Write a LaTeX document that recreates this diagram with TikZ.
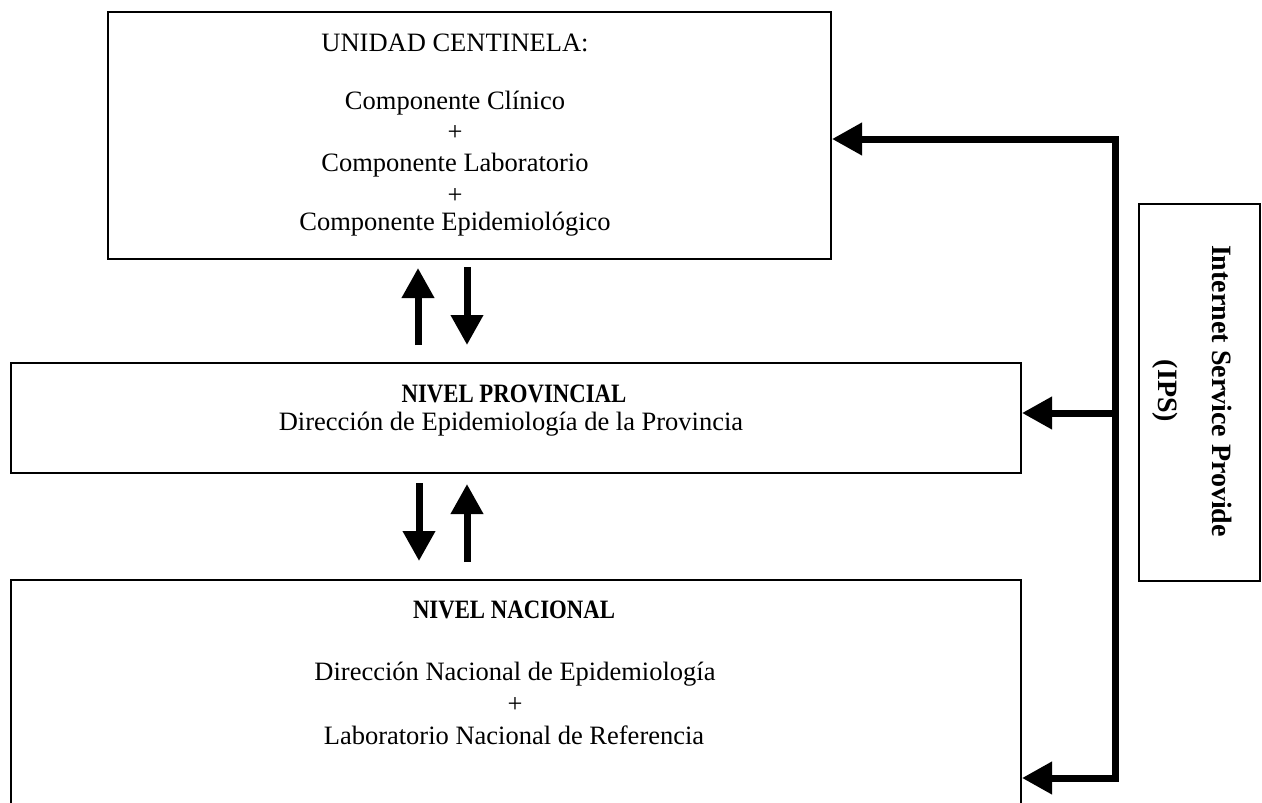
\documentclass[tikz,border=0pt]{standalone}
\usepackage{fontspec}
\setmainfont{Liberation Serif}
\newfontfamily\condbf{Liberation Serif}[FakeStretch=0.86]
\usetikzlibrary{arrows.meta}
\begin{document}
\begin{tikzpicture}[x=1pt,y=-1pt,
  box/.style={draw,line width=2pt,inner sep=0pt,anchor=north west},
  tip/.style={Triangle[length=30pt 0 0,width=31pt 0 0]},
  fat/.style={line width=7pt,-{Triangle[length=30pt 0 0,width=31pt 0 0]}},
  txt/.style={anchor=base,inner sep=0pt,font=\fontsize{26.5}{30}\selectfont},
  btxt/.style={anchor=base,inner sep=0pt,font=\fontsize{26.5}{30}\condbf\bfseries}]
\useasboundingbox (0,0) rectangle (1262,803);
% boxes
\node[box,minimum width=723pt,minimum height=247pt] (uc) at (107,11) {};
\node[box,minimum width=1010pt,minimum height=110pt] (prov) at (10,362) {};
\node[box,minimum width=1010pt,minimum height=260pt] (nac) at (10,579) {};
\node[box,minimum width=121pt,minimum height=377pt] (ips) at (1138,203) {};
% texts top box
\node[txt] (t1) at (455,51) {UNIDAD CENTINELA:};
\node[txt] (t2) at (455,109) {Componente Clínico};
\node[txt] (t3) at (455,140) {+};
\node[txt] (t4) at (455,171) {Componente Laboratorio};
\node[txt] (t5) at (455,203) {+};
\node[txt] (t6) at (455,230) {Componente Epidemiológico};
% middle
\node[btxt] (p1) at (514,402) {NIVEL PROVINCIAL};
\node[txt] (p2) at (511,430) {Dirección de Epidemiología de la Provincia};
% bottom
\node[btxt] (n1) at (514,618) {NIVEL NACIONAL};
\node[txt] (n2) at (515,680) {Dirección Nacional de Epidemiología};
\node[txt] (n3) at (515,712) {+};
\node[txt] (n4) at (514,744) {Laboratorio Nacional de Referencia};
% IPS
\node[rotate=-90,align=center,inner sep=0pt,font=\fontsize{28}{54}\selectfont\bfseries] (ipst) at (1192,391) {Internet Service Provide\\(IPS)};
% vertical arrows
\coordinate (a1s) at (418,345); \coordinate (a1e) at (418,268);
\coordinate (a2s) at (467,267); \coordinate (a2e) at (467,345);
\coordinate (a3s) at (419,483); \coordinate (a3e) at (419,561);
\coordinate (a4s) at (467,562); \coordinate (a4e) at (467,484);
\draw[fat] (a1s) -- (a1e);
\draw[fat] (a2s) -- (a2e);
\draw[fat] (a3s) -- (a3e);
\draw[fat] (a4s) -- (a4e);
% right connector
\coordinate (r1) at (1115,139);
\coordinate (r2) at (1115,413);
\coordinate (r3) at (1115,778);
\draw[line width=7pt,{Triangle[length=30pt 0 0,width=31pt 0 0]}-{Triangle[length=30pt 0 0,width=31pt 0 0]}]
  (uc.east |- r1) -- (r1) -- (r3) -- (nac.east |- r3);
\draw[fat] (r2) -- (prov.east |- r2);
\end{tikzpicture}
\end{document}
